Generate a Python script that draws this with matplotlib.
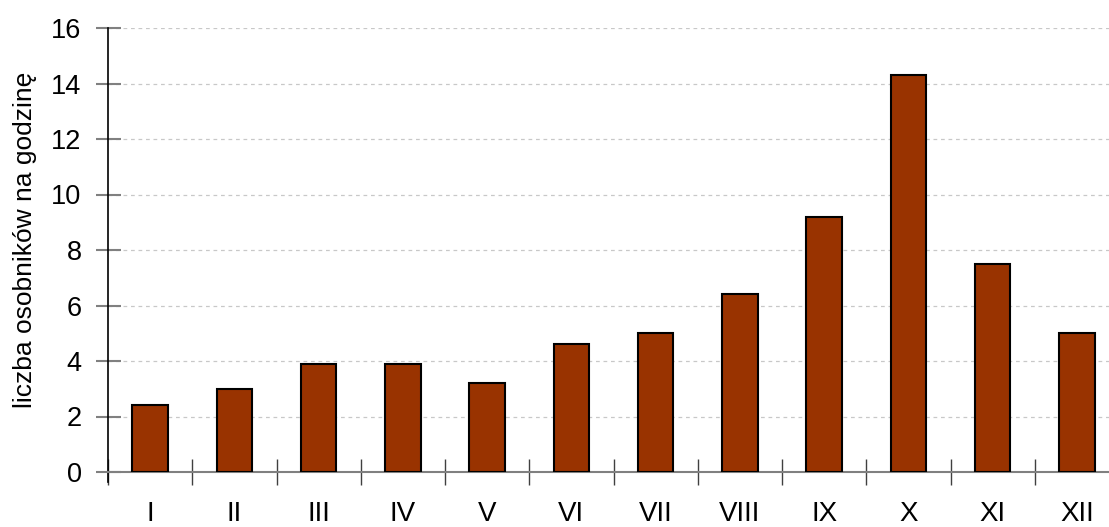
import numpy as np
import matplotlib
matplotlib.use('Agg')
import matplotlib.pyplot as plt

plt.rcParams['font.family'] = ['Liberation Sans', 'DejaVu Sans']

miesiace = ['I', 'II', 'III', 'IV', 'V', 'VI', 'VII', 'VIII', 'IX', 'X', 'XI', 'XII']
osobniki = [2.4, 3.0, 3.9, 3.9, 3.2, 4.6, 5.0, 6.4, 9.2, 14.3, 7.5, 5.0]
y_ticks = [0, 2, 4, 6, 8, 10, 12, 14, 16]

W, H = 1109, 527
fig = plt.figure(figsize=(W / 100, H / 100), dpi=100)
# os wychodzi troche poza prawa krawedz, jak w oryginale
ax = fig.add_axes([108 / W, 55 / H, 1011 / W, 444 / H])

x = np.arange(len(miesiace))
ax.bar(x, osobniki, width=0.42, color='#993300', edgecolor='black', linewidth=1.5, zorder=3)

ax.set_xlim(-0.5, 11.5)
ax.set_ylim(0, 16)
ax.set_yticks(y_ticks)
ax.set_yticklabels([str(t) for t in y_ticks], fontsize=19.5)
ax.yaxis.grid(True, linestyle=(0, (3, 3)), color='#c8c8c8', linewidth=0.9, zorder=0)

ax.set_xticks(x)
ax.set_xticklabels(miesiace, fontsize=20)
ax.set_xticks(np.arange(len(miesiace) + 1) - 0.5, minor=True)
ax.tick_params(axis='x', which='major', length=0, pad=21)
ax.tick_params(axis='x', which='minor', direction='inout', length=19, color='#404040', width=1)
ax.tick_params(axis='y', direction='inout', length=18, color='#808080', width=1.5, pad=10)

for s in ['top', 'right']:
    ax.spines[s].set_visible(False)
ax.spines['left'].set_color('black')
ax.spines['left'].set_linewidth(1.2)
ax.spines['left'].set_bounds(-0.35, 16)
ax.spines['bottom'].set_color('#808080')
ax.spines['bottom'].set_linewidth(1.5)

ax.set_ylabel('liczba osobników na godzinę', fontsize=19)
ax.yaxis.set_label_coords(-71 / 1011, 0.523)

plt.savefig('out.png', dpi=100)
